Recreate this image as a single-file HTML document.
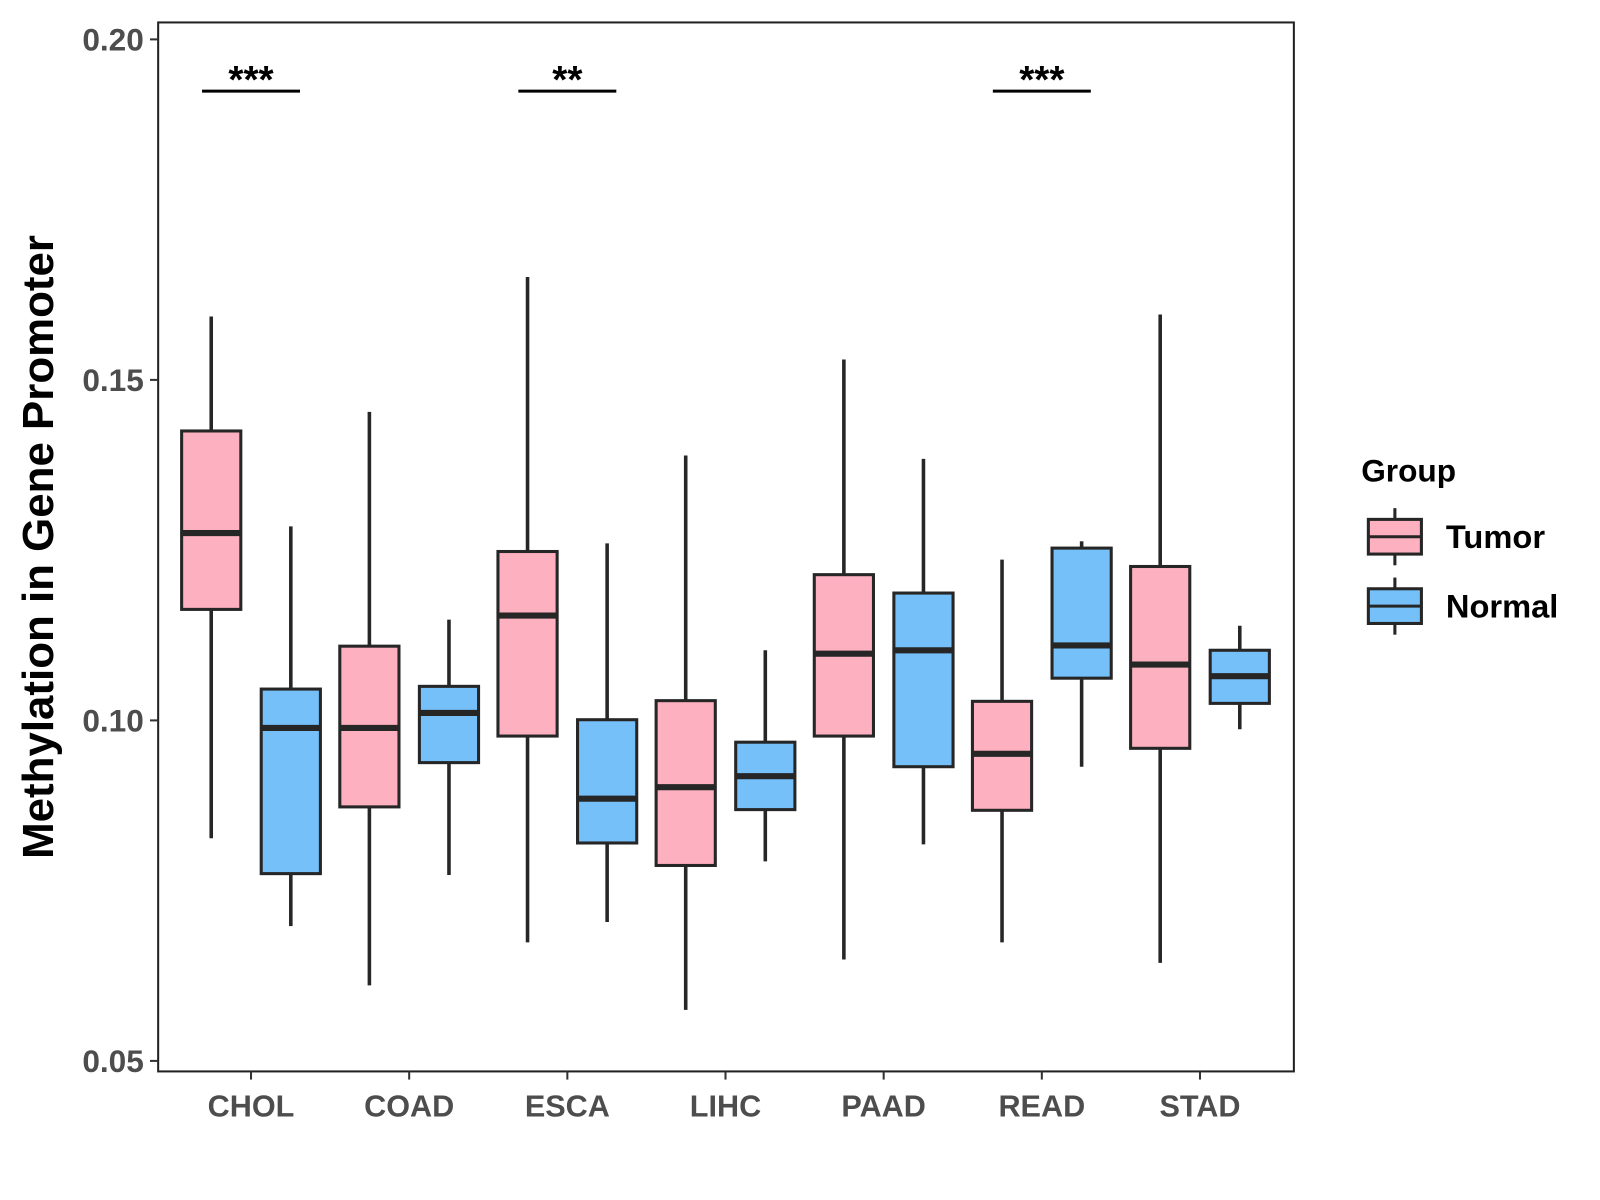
<!DOCTYPE html>
<html><head><meta charset="utf-8"><style>
html,body{margin:0;padding:0;background:#fff;}
svg{display:block;font-family:"Liberation Sans",Arial,sans-serif;}
</style></head><body>
<svg id="chart" width="1600" height="1200" viewBox="0 0 1600 1200">
<g id="plot" transform="scale(1.0204)"></g>
</svg>
<script>
const categories=["CHOL","COAD","ESCA","LIHC","PAAD","READ","STAD"];
const groups=["Tumor","Normal"];
// [lowWhisker, q1, median, q3, highWhisker]
const tumorStats=[
[0.0827,0.1163,0.1275,0.1425,0.1593],
[0.0611,0.0873,0.0989,0.1109,0.1453],
[0.0674,0.0977,0.1154,0.1248,0.1651],
[0.0575,0.0787,0.0902,0.1029,0.1389],
[0.0649,0.0977,0.1098,0.1214,0.1530],
[0.0674,0.0868,0.0951,0.1028,0.1236],
[0.0644,0.0959,0.1082,0.1226,0.1596]];
const normalStats=[
[0.0698,0.0775,0.0989,0.1046,0.1285],
[0.0773,0.0938,0.1011,0.1050,0.1148],
[0.0704,0.0820,0.0885,0.1001,0.1260],
[0.0793,0.0869,0.0918,0.0968,0.1103],
[0.0818,0.0932,0.1103,0.1187,0.1384],
[0.0932,0.1062,0.1110,0.1253,0.1263],
[0.0987,0.1025,0.1065,0.1103,0.1139]];
const yTicks=[0.05,0.10,0.15,0.20];
const yTickLabels=["0.05","0.10","0.15","0.20"];
const sigCategories=["CHOL","ESCA","READ"];
const sigLabels=["***","**","***"];
const sigLevel=0.1924;

const NS="http://www.w3.org/2000/svg";
const P={l:155,r:1268,t:22,b:1050};
const y=v=>706-(v-0.10)*6674;
const x=c=>246+categories.indexOf(c)*155;
const g=document.getElementById('plot');
function mk(tag,attrs,parent){const e=document.createElementNS(NS,tag);for(const k in attrs)e.setAttribute(k,attrs[k]);(parent||g).appendChild(e);return e;}
const colors={Tumor:"#FDB0C0",Normal:"#75C0F9"};
const stroke="#262626";

const panel=mk('rect',{x:P.l,y:P.t,width:P.r-P.l,height:P.b-P.t,fill:"none",stroke:"#222","stroke-width":2});



yTicks.forEach((v,i)=>{
  const t=mk('line',{x1:P.l-8,x2:P.l,y1:y(v),y2:y(v),stroke:"#333","stroke-width":2});
  
  
  const tx=mk('text',{x:P.l-14,y:y(v)+11,"text-anchor":"end","font-size":31,"font-weight":"bold",fill:"#4d4d4d"});
  tx.textContent=yTickLabels[i];
  
  
});
categories.forEach(c=>{
  const t=mk('line',{x1:x(c),x2:x(c),y1:P.b,y2:P.b+8,stroke:"#333","stroke-width":2});
  
  
  const tx=mk('text',{x:x(c),y:1094,"text-anchor":"middle","font-size":30,"font-weight":"bold",fill:"#4d4d4d"});
  tx.textContent=c;
  
  
});
const yt=mk('text',{x:0,y:0,transform:"translate(52,536) rotate(-90)","text-anchor":"middle","font-size":43,"font-weight":"bold",fill:"#000"});
yt.textContent="Methylation in Gene Promoter";



function box(cx,s,color,name){
  const bg=mk('g',{});
  
  
  const w=58;
  mk('line',{x1:cx,x2:cx,y1:y(s[4]),y2:y(s[3]),stroke:stroke,"stroke-width":3.5},bg);
  mk('line',{x1:cx,x2:cx,y1:y(s[1]),y2:y(s[0]),stroke:stroke,"stroke-width":3.5},bg);
  mk('rect',{x:cx-w/2,y:y(s[3]),width:w,height:y(s[1])-y(s[3]),fill:color,stroke:stroke,"stroke-width":3},bg);
  mk('line',{x1:cx-w/2,x2:cx+w/2,y1:y(s[2]),y2:y(s[2]),stroke:stroke,"stroke-width":6},bg);
}
categories.forEach((c,i)=>{
  box(x(c)-39,tumorStats[i],colors.Tumor,'box-'+c.toLowerCase()+'-tumor');
  box(x(c)+39,normalStats[i],colors.Normal,'box-'+c.toLowerCase()+'-normal');
});
sigCategories.forEach((c,i)=>{
  const l=mk('line',{x1:x(c)-48,x2:x(c)+48,y1:y(sigLevel),y2:y(sigLevel),stroke:"#000","stroke-width":3});
  
  
  const t=mk('text',{x:x(c),y:y(sigLevel)+2,"text-anchor":"middle","font-size":38,"font-weight":"bold",fill:"#000"});
  t.textContent=sigLabels[i];
  
  
});
const lg=mk('g',{});


const lt=mk('text',{x:1334,y:472,"font-size":31,"font-weight":"bold",fill:"#000"},lg);
lt.textContent="Group";


groups.forEach((gname,i)=>{
  const cy=526+i*68;
  const e=mk('g',{},lg);
  
  
  mk('line',{x1:1367,x2:1367,y1:cy-28,y2:cy+28,stroke:stroke,"stroke-width":3},e);
  mk('rect',{x:1341,y:cy-17,width:52,height:34,fill:colors[gname],stroke:stroke,"stroke-width":3},e);
  mk('line',{x1:1341,x2:1393,y1:cy,y2:cy,stroke:stroke,"stroke-width":3},e);
  const t=mk('text',{x:1417,y:cy+11,"font-size":32,"font-weight":"bold",fill:"#000"},e);
  t.textContent=gname;
});
</script>
</body></html>
